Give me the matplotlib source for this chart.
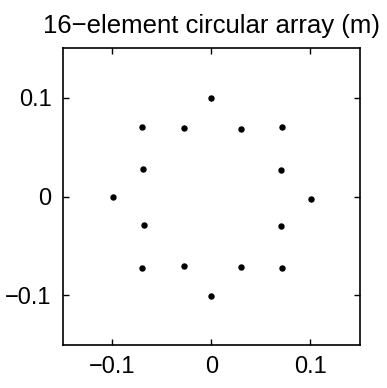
import matplotlib
matplotlib.use("Agg")
import matplotlib.pyplot as plt

# element positions (m)
x_pos = [0.0, -0.070, -0.028, 0.030, 0.071, -0.069, 0.070, -0.099,
         0.101, -0.068, 0.070, -0.070, -0.028, 0.030, 0.071, 0.0]
y_pos = [0.100, 0.070, 0.069, 0.068, 0.070, 0.028, 0.027, 0.0,
         -0.002, -0.029, -0.030, -0.072, -0.070, -0.071, -0.072, -0.101]
ticks = [-0.1, 0, 0.1]
tick_labels = ["\u22120.1", "0", "0.1"]
title = "16\u2212element circular array (m)"

plt.rcParams['font.family'] = ['Liberation Sans', 'DejaVu Sans']

fig = plt.figure(figsize=(3.87, 3.88), dpi=100)
ax = fig.add_axes([0.162, 0.111, 0.768, 0.7645])
ax.plot(x_pos, y_pos, 'o', color='black', markersize=3.6, linestyle='none')
ax.set_xlim(-0.15, 0.15)
ax.set_ylim(-0.15, 0.15)
ax.set_xticks(ticks)
ax.set_xticklabels(tick_labels)
ax.set_yticks(ticks)
ax.set_yticklabels(tick_labels)
ax.tick_params(direction='in', length=4, width=1, top=True, right=True,
               labelsize=17, pad=8, colors='black')
for s in ax.spines.values():
    s.set_linewidth(1.2)
ax.set_title(title, fontsize=18.5, pad=11)
fig.savefig("out.png", dpi=100, facecolor='white')
